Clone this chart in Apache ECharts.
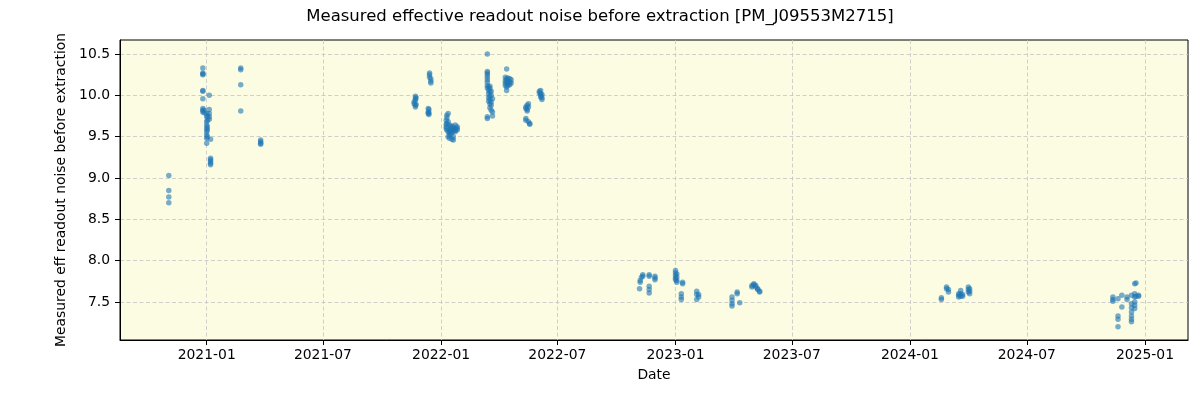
<!DOCTYPE html>
<html>
<head>
<meta charset="utf-8">
<script src="https://cdn.jsdelivr.net/npm/echarts@6/dist/echarts.min.js"></script>
<style>
html,body{margin:0;padding:0;background:#fff;}
#chart{width:1200px;height:400px;}
</style>
</head>
<body>
<div id="chart"></div>
<script>
// Observation nights and the noise values measured on each night
const nightDates = [
  '2020-11-03','2020-12-26','2020-12-28','2021-01-01','2021-01-02','2021-01-05','2021-01-07',
  '2021-02-23','2021-03-26',
  '2021-11-20','2021-11-22','2021-11-23','2021-12-12','2021-12-13','2021-12-14','2021-12-16',
  '2022-01-09','2022-01-10','2022-01-12','2022-01-14','2022-01-16','2022-01-18','2022-01-20','2022-01-23','2022-01-26',
  '2022-03-14','2022-03-16','2022-03-18','2022-03-20','2022-03-22',
  '2022-04-11','2022-04-13','2022-04-15','2022-04-18','2022-04-20',
  '2022-05-13','2022-05-15','2022-05-17','2022-05-19',
  '2022-06-03','2022-06-05','2022-06-07',
  '2022-11-06','2022-11-07','2022-11-09','2022-11-11','2022-11-21','2022-11-30',
  '2023-01-01','2023-01-03','2023-01-10','2023-01-12','2023-02-03','2023-02-06',
  '2023-03-30','2023-04-07','2023-04-11',
  '2023-04-30','2023-05-03','2023-05-06','2023-05-09','2023-05-12',
  '2024-02-19','2024-02-27','2024-03-01','2024-03-17','2024-03-20','2024-03-23','2024-04-01','2024-04-03',
  '2024-11-12','2024-11-20','2024-11-26','2024-12-04','2024-12-11','2024-12-16','2024-12-18','2024-12-22'
];
const nightValues = [
  [9.03, 8.85, 8.77, 8.70],
  [10.33, 10.27, 10.25, 10.26, 10.06, 10.05, 9.96, 9.84, 9.82, 9.80],
  [9.82, 9.79],
  [9.78, 9.74, 9.68, 9.64, 9.60, 9.56, 9.52, 9.48, 9.42],
  [9.75, 9.70, 9.62, 9.58, 9.50],
  [10.00, 9.83, 9.78, 9.74, 9.71],
  [9.47, 9.24, 9.22, 9.20, 9.18, 9.16],
  [10.33, 10.31, 10.13, 9.81],
  [9.46, 9.44, 9.42, 9.41],
  [9.92, 9.90],
  [9.99, 9.96, 9.94, 9.88, 9.86],
  [9.97, 9.89],
  [9.84, 9.80, 9.78],
  [9.83, 9.79, 9.77],
  [10.27, 10.25, 10.22],
  [10.20, 10.17, 10.15],
  [9.70, 9.65, 9.62, 9.60],
  [9.76, 9.73, 9.66, 9.58],
  [9.78, 9.68, 9.56, 9.50],
  [9.64, 9.58, 9.55, 9.48, 9.52],
  [9.62, 9.57, 9.53, 9.60],
  [9.63, 9.59, 9.55, 9.47],
  [9.61, 9.57, 9.50, 9.46],
  [9.64, 9.60, 9.56, 9.58],
  [9.62, 9.58, 9.60],
  [10.50, 10.29, 10.27, 10.25, 10.22, 10.19, 10.16, 10.12, 10.09, 9.74, 9.72],
  [10.10, 10.06, 10.02, 9.97, 9.93],
  [10.11, 10.08, 10.04, 9.99, 9.95, 9.90, 9.85],
  [10.05, 10.00, 9.92, 9.88, 9.82],
  [9.96, 9.80, 9.75],
  [10.22, 10.18, 10.15, 10.12],
  [10.32, 10.20, 10.16, 10.10, 10.06],
  [10.21, 10.18, 10.14, 10.12],
  [10.20, 10.16, 10.13],
  [10.19, 10.15],
  [9.86, 9.84, 9.72, 9.70],
  [9.88, 9.83, 9.81],
  [9.90, 9.86, 9.68],
  [9.66, 9.65],
  [10.05, 10.03],
  [10.06, 10.02, 10.00, 9.98],
  [10.01, 9.97, 9.95],
  [7.66],
  [7.76, 7.74],
  [7.80],
  [7.83, 7.81],
  [7.83, 7.81, 7.69, 7.65, 7.61],
  [7.81, 7.79, 7.77],
  [7.88, 7.85, 7.82, 7.79, 7.77],
  [7.84, 7.80, 7.76, 7.74],
  [7.60, 7.56, 7.53],
  [7.74, 7.72],
  [7.63, 7.59, 7.53],
  [7.59, 7.56],
  [7.56, 7.52, 7.48, 7.45],
  [7.62, 7.60],
  [7.49],
  [7.68, 7.70],
  [7.72, 7.71],
  [7.70, 7.68],
  [7.66, 7.65],
  [7.63, 7.62],
  [7.53, 7.55],
  [7.68, 7.66],
  [7.65, 7.62],
  [7.60, 7.58, 7.56],
  [7.64, 7.60, 7.57],
  [7.59, 7.57],
  [7.68, 7.65, 7.62],
  [7.66, 7.63, 7.60],
  [7.56, 7.53, 7.51],
  [7.54, 7.33, 7.29, 7.20],
  [7.58, 7.44],
  [7.56, 7.53],
  [7.58, 7.48, 7.43, 7.38, 7.33, 7.29, 7.26],
  [7.72, 7.60, 7.56, 7.50, 7.46, 7.42],
  [7.73, 7.57],
  [7.58, 7.57]
];
const xTickLabels = ['2021-01','2021-07','2022-01','2022-07','2023-01','2023-07','2024-01','2024-07','2025-01'];
const yTickValues = [7.5, 8.0, 8.5, 9.0, 9.5, 10.0, 10.5];

function ts(s) {
  const p = s.split('-');
  return Date.UTC(+p[0], +p[1] - 1, p[2] ? +p[2] : 1);
}
const points = [];
nightDates.forEach((d, i) => nightValues[i].forEach(v => points.push([ts(d), v])));

const xTicks = xTickLabels.map(ts);
const xMin = ts('2020-08-19');
const xMax = ts('2025-03-09');

function fmtMonth(v) {
  const d = new Date(v);
  return d.getUTCFullYear() + '-' + String(d.getUTCMonth() + 1).padStart(2, '0');
}

const FONT = 'DejaVu Sans';
const chart = echarts.init(document.getElementById('chart'), null, {renderer: 'canvas'});
chart.setOption({
  animation: false,
  backgroundColor: '#ffffff',
  textStyle: {fontFamily: FONT},
  title: {
    text: 'Measured effective readout noise before extraction [PM_J09553M2715]',
    left: 'center',
    top: 3,
    textStyle: {fontFamily: FONT, fontSize: 16.5, fontWeight: 'normal', color: '#000'}
  },
  grid: {
    left: 120, right: 12, top: 40, bottom: 60,
    show: true, backgroundColor: '#fcfce2', borderColor: '#000', borderWidth: 1
  },
  xAxis: {
    type: 'value',
    min: xMin, max: xMax,
    scale: true,
    name: 'Date', nameLocation: 'middle', nameGap: 28,
    nameTextStyle: {fontFamily: FONT, fontSize: 13.9, color: '#000'},
    axisLine: {show: true, lineStyle: {color: '#000', width: 1}},
    axisTick: {show: true, length: 5, lineStyle: {color: '#000'}, customValues: xTicks},
    axisLabel: {
      customValues: xTicks, margin: 8, fontFamily: FONT, fontSize: 13.9, color: '#000',
      formatter: fmtMonth
    },
    splitLine: {show: true, lineStyle: {color: '#c4c4c4', type: [4, 2.5], width: 0.8}}
  },
  yAxis: {
    type: 'value',
    min: 7.04, max: 10.67,
    name: 'Measured eff readout noise before extraction', nameLocation: 'middle', nameGap: 47,
    nameTextStyle: {fontFamily: FONT, fontSize: 13.9, color: '#000'},
    axisLine: {show: true, lineStyle: {color: '#000', width: 1}},
    axisTick: {show: true, length: 5, lineStyle: {color: '#000'}, customValues: yTickValues},
    axisLabel: {
      customValues: yTickValues, margin: 10, fontFamily: FONT, fontSize: 13.9, color: '#000',
      formatter: v => v.toFixed(1)
    },
    splitLine: {show: true, lineStyle: {color: '#c4c4c4', type: [4, 2.5], width: 0.8}}
  },
  series: [{
    type: 'scatter',
    data: points,
    symbolSize: 5.5,
    itemStyle: {color: '#1f77b4', opacity: 0.6}
  }]
});
</script>
</body>
</html>
